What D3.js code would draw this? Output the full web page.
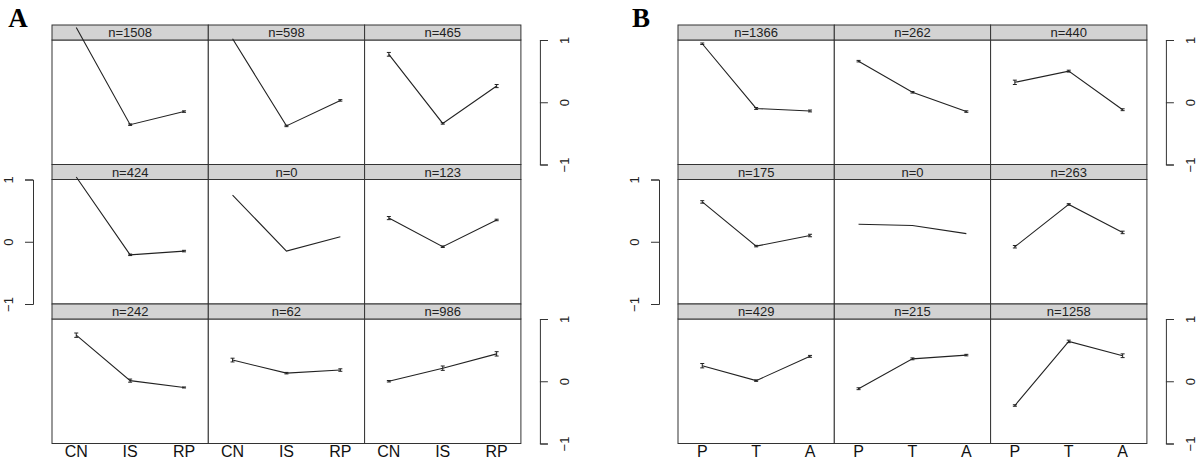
<!DOCTYPE html>
<html>
<head>
<meta charset="utf-8">
<script src="https://cdn.jsdelivr.net/npm/d3@7"></script>
<style>
  body { margin: 0; background: #fff; }
  svg { display: block; font-family: "Liberation Sans", Arial, sans-serif; }
</style>
</head>
<body>
<svg id="chart"></svg>
<script>
const width = 1200;
const height = 462;

// ---- data (panels listed left->right, top->bottom) ----
const levelsA = ["CN", "IS", "RP"];
const countsA = [1508, 598, 465, 424, 0, 123, 242, 62, 986];
const meansA = [
  [1.2, -0.36, -0.15], [1.02, -0.38, 0.03], [0.77, -0.34, 0.26],
  [1.04, -0.21, -0.15], [0.75, -0.15, 0.08], [0.38, -0.08, 0.35],
  [0.74, 0.01, -0.1], [0.34, 0.13, 0.18], [0.0, 0.21, 0.44]
];
const errorsA = [
  [0, 0.012, 0.012], [0, 0.012, 0.012], [0.03, 0.012, 0.025],
  [0, 0.012, 0.012], [0, 0, 0], [0.025, 0.012, 0.012],
  [0.035, 0.025, 0.008], [0.03, 0.012, 0.02], [0.012, 0.035, 0.035]
];

const levelsB = ["P", "T", "A"];
const countsB = [1366, 262, 440, 175, 0, 263, 429, 215, 1258];
const meansB = [
  [0.94, -0.1, -0.14], [0.66, 0.16, -0.15], [0.32, 0.5, -0.12],
  [0.64, -0.07, 0.1], [0.28, 0.26, 0.13], [-0.08, 0.6, 0.15],
  [0.25, 0.01, 0.4], [-0.12, 0.36, 0.42], [-0.39, 0.64, 0.41]
];
const errorsB = [
  [0.012, 0.015, 0.015], [0.012, 0.012, 0.012], [0.035, 0.015, 0.015],
  [0.02, 0.012, 0.02], [0, 0, 0], [0.02, 0.012, 0.02],
  [0.035, 0.012, 0.015], [0.015, 0.015, 0.012], [0.012, 0.02, 0.03]
];

const yTicks = [-1, 0, 1];

const svg = d3.select("#chart").attr("width", width).attr("height", height);

// layout
const colW = 156.3;
const rowH = 139.5;
const stripH = 15;
const top0 = 25;

function drawFigure(letter, letterX, x0, levels, counts, means, errors) {
  const g = svg.append("g").attr("transform", `translate(${x0},0)`);

  const x = d3.scalePoint().domain(levels).range([0, colW]).padding(0.45);

  svg.append("text")
    .attr("x", letterX).attr("y", 27)
    .attr("text-anchor", "middle")
    .style("font-family", "'Liberation Serif', 'Times New Roman', serif")
    .style("font-weight", "bold")
    .style("font-size", "27px")
    .text(letter);

  counts.forEach((n, i) => {
    const r = Math.floor(i / 3), c = i % 3;
    const sTop = top0 + r * rowH;
    const pTop = sTop + stripH;
    const pBot = sTop + rowH;
    const y = d3.scaleLinear().domain([-1, 1]).range([pBot, pTop]);
    const p = g.append("g").attr("transform", `translate(${c * colW},0)`);

    p.append("rect")
      .attr("x", 0).attr("y", pTop).attr("width", colW).attr("height", pBot - pTop)
      .attr("fill", "#fff").attr("stroke", "#333");

    p.append("rect")
      .attr("x", 0).attr("y", sTop).attr("width", colW).attr("height", stripH)
      .attr("fill", "#d3d3d3").attr("stroke", "#333");

    p.append("text")
      .attr("x", colW / 2).attr("y", sTop + 12)
      .attr("text-anchor", "middle")
      .style("font-size", "13px")
      .attr("fill", "#222")
      .text("n=" + n);

    const pts = levels.map((l, k) => ({ l, v: means[i][k], e: errors[i][k] }));

    p.append("path")
      .datum(pts)
      .attr("fill", "none").attr("stroke", "#222").attr("stroke-width", 1.1)
      .attr("d", d3.line().x(d => x(d.l)).y(d => y(d.v)));

    // error bars
    const eb = p.selectAll(".eb").data(pts.filter(d => d.e > 0)).join("g").attr("class", "eb");
    eb.append("line")
      .attr("x1", d => x(d.l)).attr("x2", d => x(d.l))
      .attr("y1", d => y(d.v - d.e)).attr("y2", d => y(d.v + d.e))
      .attr("stroke", "#222");
    eb.selectAll(".cap").data(d => [[d, -1], [d, 1]]).join("line")
      .attr("x1", d => x(d[0].l) - 2).attr("x2", d => x(d[0].l) + 2)
      .attr("y1", d => y(d[0].v + d[1] * d[0].e)).attr("y2", d => y(d[0].v + d[1] * d[0].e))
      .attr("stroke", "#222");

    // x labels under bottom row
    if (r === 2) {
      p.selectAll(".xl").data(levels).join("text")
        .attr("x", d => x(d)).attr("y", pBot + 13.5)
        .attr("text-anchor", "middle")
        .style("font-size", "16px")
        .attr("fill", "#111")
        .text(d => d);
    }

    // alternating y axes: right on rows 1 & 3, left on row 2
    if (c === 2 && r !== 1) {
      const ax = g.append("g")
        .attr("transform", `translate(${3 * colW + 19},0)`)
        .call(d3.axisRight(y).tickValues(yTicks).tickFormat(d3.format("d")).tickSize(8).tickSizeOuter(8));
      styleAxis(ax, 25);
    }
    if (c === 0 && r === 1) {
      const ax = g.append("g")
        .attr("transform", `translate(-19,0)`)
        .call(d3.axisLeft(y).tickValues(yTicks).tickFormat(d3.format("d")).tickSize(8).tickSizeOuter(8));
      styleAxis(ax, -25);
    }
  });
}

function styleAxis(ax, off) {
  ax.selectAll("path, line").attr("stroke", "#333");
  ax.selectAll("text")
    .attr("x", null).attr("y", null).attr("dy", "0.35em")
    .attr("text-anchor", "middle")
    .attr("transform", `translate(${off},0) rotate(-90)`)
    .style("font-size", "13px")
    .style("font-family", "'Liberation Sans', Arial, sans-serif")
    .attr("fill", "#222");
}

drawFigure("A", 18, 52, levelsA, countsA, meansA, errorsA);
drawFigure("B", 641, 678, levelsB, countsB, meansB, errorsB);
</script>
</body>
</html>
